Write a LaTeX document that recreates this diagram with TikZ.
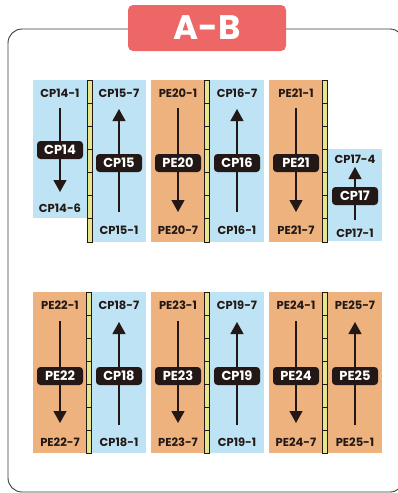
\documentclass[tikz,border=0pt]{standalone}
\usepackage{fontspec}
\setmainfont{Poppins}
\usetikzlibrary{arrows.meta}
\definecolor{cpblue}{HTML}{BEE3F4}
\definecolor{peorange}{HTML}{EDB27E}
\definecolor{rulery}{HTML}{E6E58A}
\definecolor{inkdark}{HTML}{231815}
\definecolor{titlered}{HTML}{EC6766}
\definecolor{framegray}{HTML}{3A3A3A}
\tikzset{
 bluepanel/.style={fill=cpblue,draw=none},
 orangepanel/.style={fill=peorange,draw=none},
 rulerbar/.style={fill=rulery,draw=inkdark,line width=0.9pt},
 pinlbl/.style={font=\bfseries\fontsize{11.5}{13}\selectfont,text=inkdark,inner sep=0pt},
 tagbox/.style={fill=inkdark,rounded corners=3.5pt,text=white,font=\bfseries\fontsize{13}{15}\selectfont,minimum width=46pt,minimum height=18pt,inner sep=0pt},
 flow/.style={draw=inkdark,line width=1.2pt,-{Triangle[width=13pt,length=12pt]}},
 titlebox/.style={fill=titlered,rounded corners=5pt,text=white,font=\bfseries\fontsize{34}{36}\selectfont,minimum width=158pt,minimum height=46pt,inner sep=0pt},
}
\begin{document}
\begin{tikzpicture}[x=1pt,y=-1pt]
\clip (0,0) rectangle (398,493);
% outer frame
\draw[framegray,line width=0.9pt,rounded corners=14pt] (8,29) rectangle (404,492);
% title
\node[titlebox] (title) at (207,28) {A-B};
% panels
\foreach \nm/\sty/\xl/\yt/\yb/\tl/\ty/\bl/\by/\ys/\ye/\yg in {
 CP14/bluepanel/33/80/218/CP14-1/93/CP14-6/208/108/192/150,
 CP15/bluepanel/92/80/242/CP15-7/93/CP15-1/230/212/109/163,
 PE20/orangepanel/151/80/242/PE20-1/93/PE20-7/230/108/212/163,
 CP16/bluepanel/210/80/242/CP16-7/93/CP16-1/230/212/109/163,
 PE21/orangepanel/269/80/242/PE21-1/93/PE21-7/230/108/212/163,
 CP17/bluepanel/328/149/241/CP17-4/159/CP17-1/233/220/167/196,
 PE22/orangepanel/33/292/453/PE22-1/305/PE22-7/442/321/423/376,
 CP18/bluepanel/92/292/453/CP18-7/305/CP18-1/442/425/322/376,
 PE23/orangepanel/151/292/453/PE23-1/305/PE23-7/442/321/423/376,
 CP19/bluepanel/210/292/453/CP19-7/305/CP19-1/442/425/322/376,
 PE24/orangepanel/269/292/453/PE24-1/305/PE24-7/442/321/423/376,
 PE25/orangepanel/328/292/453/PE25-7/305/PE25-1/442/425/322/376}{
 \path[\sty] (\xl,\yt) rectangle ++(54,\yb-\yt);
 \node[pinlbl] (\nm-top) at (\xl+27,\ty) {\tl};
 \node[pinlbl] (\nm-bot) at (\xl+27,\by) {\bl};
 \coordinate (\nm-s) at (\xl+27,\ys);
 \coordinate (\nm-e) at (\xl+27,\ye);
 \draw[flow] (\nm-s) -- (\nm-e);
 \node[tagbox] (\nm-tag) at (\xl+27,\yg) {\nm};
}
% rulers
\foreach \rx/\ry/\rb in {87/80/242,204/80/242,322/80/242,86/292/453,204/292/453,322/292/453}{
 \draw[rulerbar] (\rx,\ry) rectangle (\rx+5.5,\rb);
 \foreach \k in {1,...,6}{
  \draw[inkdark,line width=0.9pt] (\rx,{\ry+\k*(\rb-\ry)/7}) -- (\rx+5.5,{\ry+\k*(\rb-\ry)/7});
 }
}
\end{tikzpicture}
\end{document}
